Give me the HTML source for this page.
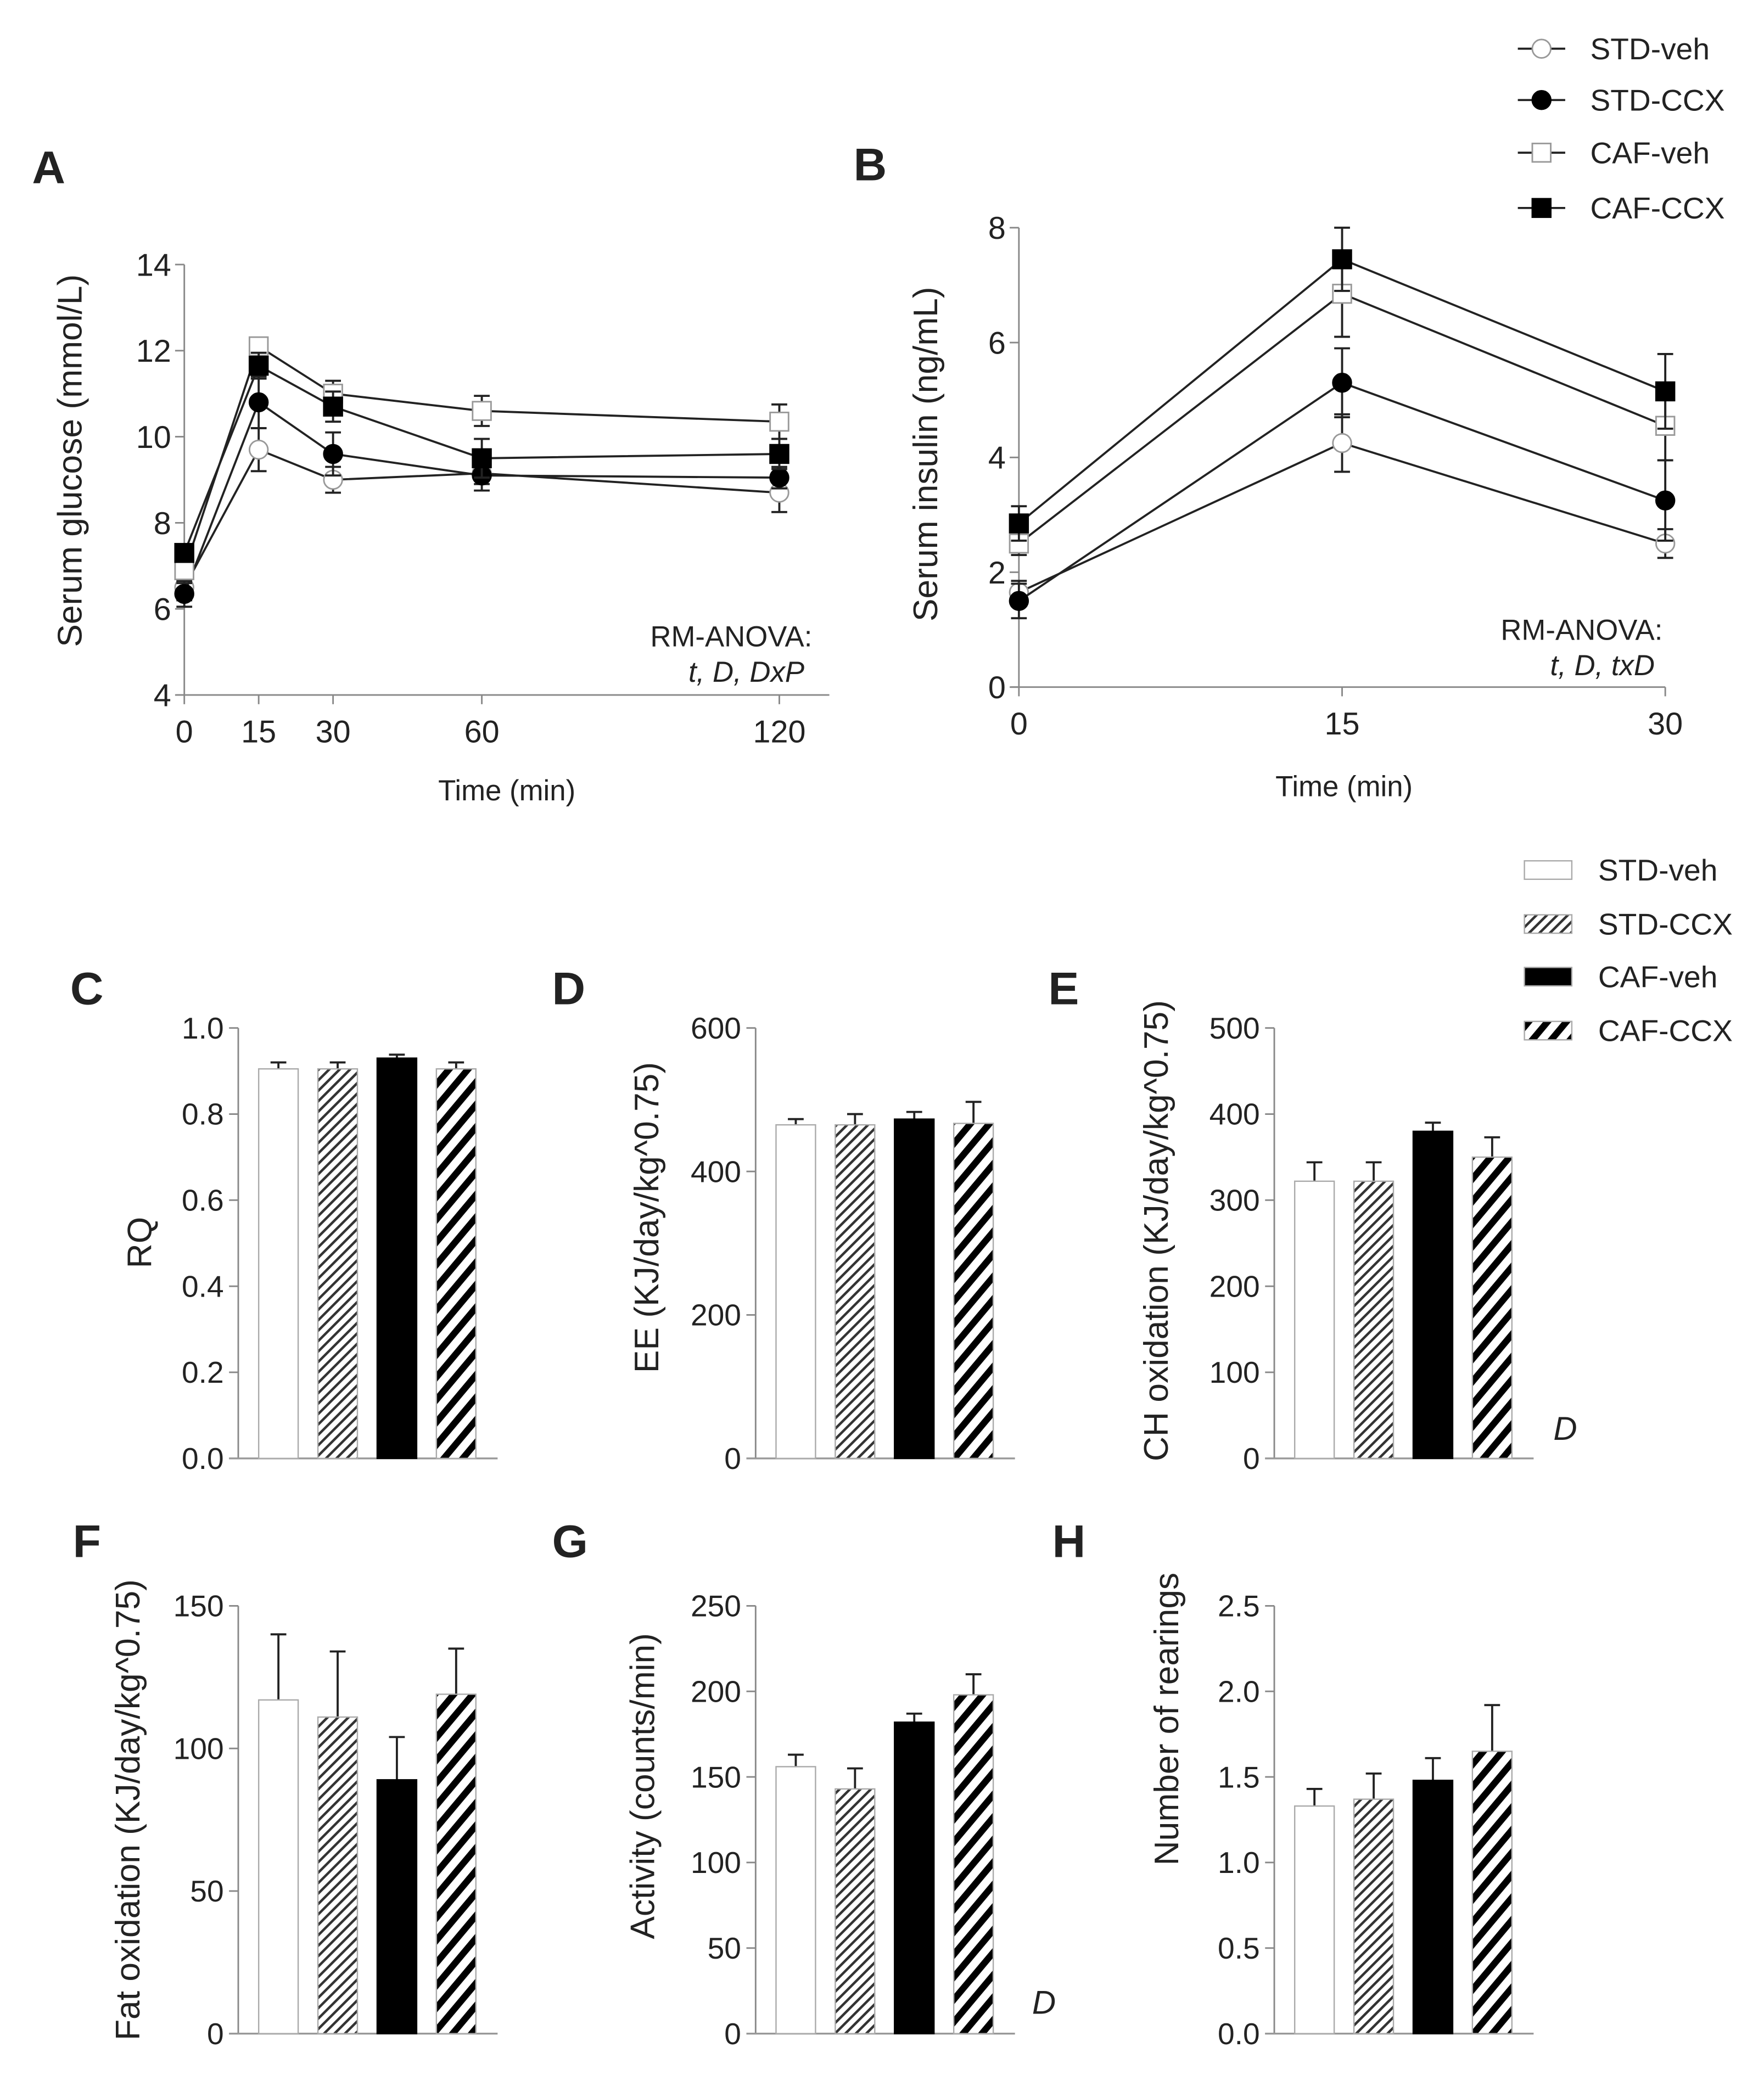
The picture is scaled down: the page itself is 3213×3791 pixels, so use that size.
<!DOCTYPE html>
<html><head><meta charset="utf-8"><title>Glucose, insulin and metabolic panels</title>
<style>
html,body{margin:0;padding:0;background:#fff;}
svg{display:block;}
text{font-family:"Liberation Sans",Arial,sans-serif;fill:#222;}
</style></head>
<body>
<svg id="fig" xmlns="http://www.w3.org/2000/svg" width="3213" height="3791" viewBox="0 0 1340 1581" preserveAspectRatio="none">
<defs>
<pattern id="thinHatch" patternUnits="userSpaceOnUse" width="5.6" height="5.6" patternTransform="rotate(45)">
<rect width="5.6" height="5.6" fill="#fff"/><rect x="0" y="0" width="1.9" height="5.6" fill="#333"/>
</pattern>
<pattern id="thickHatch" patternUnits="userSpaceOnUse" width="11" height="11" patternTransform="rotate(40)">
<rect width="11" height="11" fill="#fff"/><rect x="0" y="0" width="5" height="11" fill="#000"/>
</pattern>
</defs>
<g id="root"></g>
</svg>
<script>
// ---------- Panel A data (serum glucose) ----------
const timesA = [0, 15, 30, 60, 120];
const ticksAY = [4, 6, 8, 10, 12, 14];
const stdVehA = [6.5, 9.7, 9.0, 9.15, 8.7];
const stdVehAErr = [0.3, 0.5, 0.3, 0.25, 0.45];
const stdCcxA = [6.35, 10.8, 9.6, 9.1, 9.05];
const stdCcxAErr = [0.3, 0.6, 0.5, 0.35, 0.25];
const cafVehA = [6.9, 12.1, 11.0, 10.6, 10.35];
const cafVehAErr = [0.3, 0.2, 0.3, 0.35, 0.4];
const cafCcxA = [7.3, 11.65, 10.7, 9.5, 9.6];
const cafCcxAErr = [0.2, 0.3, 0.35, 0.45, 0.35];
// ---------- Panel B data (serum insulin) ----------
const timesB = [0, 15, 30];
const ticksBY = [0, 2, 4, 6, 8];
const stdVehB = [1.65, 4.25, 2.5];
const stdVehBErr = [0.2, 0.5, 0.25];
const stdCcxB = [1.5, 5.3, 3.25];
const stdCcxBErr = [0.3, 0.6, 0.7];
const cafVehB = [2.5, 6.85, 4.55];
const cafVehBErr = [0.2, 0.75, 0.6];
const cafCcxB = [2.85, 7.45, 5.15];
const cafCcxBErr = [0.3, 0.55, 0.65];
// ---------- Bar panels ----------
const groups = ["STD-veh", "STD-CCX", "CAF-veh", "CAF-CCX"];
const rqVals = [0.905, 0.905, 0.93, 0.905];
const rqErr = [0.015, 0.015, 0.008, 0.015];
const rqTicks = ["0.0", "0.2", "0.4", "0.6", "0.8", "1.0"];
const eeVals = [465, 465, 473, 467];
const eeErr = [8, 15, 10, 30];
const eeTicks = ["0", "200", "400", "600"];
const chVals = [322, 322, 380, 350];
const chErr = [22, 22, 10, 23];
const chTicks = ["0", "100", "200", "300", "400", "500"];
const fatVals = [117, 111, 89, 119];
const fatErr = [23, 23, 15, 16];
const fatTicks = ["0", "50", "100", "150"];
const actVals = [156, 143, 182, 198];
const actErr = [7, 12, 5, 12];
const actTicks = ["0", "50", "100", "150", "200", "250"];
const rearVals = [1.33, 1.37, 1.48, 1.65];
const rearErr = [0.1, 0.15, 0.13, 0.27];
const rearTicks = ["0.0", "0.5", "1.0", "1.5", "2.0", "2.5"];

const NS = "http://www.w3.org/2000/svg";
const root = document.getElementById("root");
function mk(tag, attrs, parent) {
  const e = document.createElementNS(NS, tag);
  for (const k in attrs) e.setAttribute(k, attrs[k]);
  (parent || root).appendChild(e);
  return e;
}
function txt(str, x, y, size, parent, extra) {
  const t = mk("text", Object.assign({x: x, y: y, "font-size": size}, extra || {}), parent);
  t.textContent = str;
  return t;
}
function panelLetter(ch, x, y) {
  const t = txt(ch, x, y, 35, root, {"font-weight": "bold", "text-anchor": "middle", "fill": "#000"});
  
  
}

// ---------- Line panel ----------
function linePanel(cfg) {
  const g = mk("g", {});
  
  
  const sx = v => cfg.x0 + (v - cfg.xmin) / (cfg.xmax - cfg.xmin) * (cfg.x1 - cfg.x0);
  const sy = v => cfg.y0 + (v - cfg.ymin) / (cfg.ymax - cfg.ymin) * (cfg.y1 - cfg.y0);
  const ax = mk("g", {}, g);
  
  
  mk("line", {x1: cfg.x0, y1: sy(cfg.ymin), x2: cfg.x0, y2: sy(cfg.ymax), stroke: "#888", "stroke-width": 1.2}, ax);
  cfg.yticks.forEach(v => {
    mk("line", {x1: cfg.x0 - 7, y1: sy(v), x2: cfg.x0, y2: sy(v), stroke: "#888", "stroke-width": 1.2}, ax);
    const t = txt(String(v), cfg.x0 - 10, sy(v) + 8.5, 24, ax, {"text-anchor": "end"});
    
    
  });
  const xa = mk("g", {}, g);
  
  
  mk("line", {x1: cfg.x0 - 6, y1: sy(cfg.ymin), x2: cfg.xend, y2: sy(cfg.ymin), stroke: "#888", "stroke-width": 1.2}, xa);
  cfg.times.forEach(v => {
    mk("line", {x1: sx(v), y1: sy(cfg.ymin), x2: sx(v), y2: sy(cfg.ymin) + 7, stroke: "#888", "stroke-width": 1.2}, xa);
    const t = txt(String(v), sx(v), sy(cfg.ymin) + 36, 24, xa, {"text-anchor": "middle"});
    
    
  });
  const xt = txt("Time (min)", cfg.xTitleX, cfg.xTitleY, 22, g, {"text-anchor": "middle"});
  
  
  const yt = txt(cfg.ytitle, 0, 0, 26, g, {"text-anchor": "middle", transform: "translate(" + cfg.yTitleX + "," + cfg.yTitleY + ") rotate(-90)"});
  
  
  const a1 = txt("RM-ANOVA:", cfg.annX, cfg.annY, 22, g, {"text-anchor": "end"});
  
  
  const a2 = txt(cfg.ann, cfg.annX - 6, cfg.annY + 27, 22, g, {"text-anchor": "end", "font-style": "italic"});
  
  
  cfg.series.forEach(s => {
    const sg = mk("g", {}, g);
    
    
    const pts = cfg.times.map((t, i) => sx(t) + "," + sy(s.vals[i])).join(" ");
    const pl = mk("polyline", {points: pts, fill: "none", stroke: "#222", "stroke-width": 1.6}, sg);
    
    
    cfg.times.forEach((t, i) => {
      const x = sx(t), y = s.vals[i], e = s.err[i];
      const eb = mk("path", {d: "M" + x + "," + sy(y - e) + "V" + sy(y + e) + "M" + (x - 6) + "," + sy(y + e) + "H" + (x + 6) + "M" + (x - 6) + "," + sy(y - e) + "H" + (x + 6), stroke: "#222", "stroke-width": 1.6, fill: "none"}, sg);
      
      
    });
    cfg.times.forEach((t, i) => {
      const x = sx(t), y = sy(s.vals[i]);
      let m;
      if (s.shape === "circle") m = mk("circle", {cx: x, cy: y, r: 7, fill: s.fill ? "#000" : "#fff", stroke: s.fill ? "#000" : "#999", "stroke-width": 1.2}, sg);
      else m = mk("rect", {x: x - 7, y: y - 7, width: 14, height: 14, fill: s.fill ? "#000" : "#fff", stroke: s.fill ? "#000" : "#999", "stroke-width": 1.2}, sg);
      
      
    });
  });
}

linePanel({name: "panel-a-glucose", x0: 140, x1: 592, xend: 630, xmin: 0, xmax: 120, y0: 528, y1: 201, ymin: 4, ymax: 14,
  times: timesA, yticks: ticksAY, ytitle: "Serum glucose (mmol/L)", yTitleX: 62, yTitleY: 350,
  xTitleX: 385, xTitleY: 608, annX: 617, annY: 491, ann: "t, D, DxP",
  series: [
    {key: "std-veh", vals: stdVehA, err: stdVehAErr, shape: "circle", fill: false},
    {key: "std-ccx", vals: stdCcxA, err: stdCcxAErr, shape: "circle", fill: true},
    {key: "caf-veh", vals: cafVehA, err: cafVehAErr, shape: "square", fill: false},
    {key: "caf-ccx", vals: cafCcxA, err: cafCcxAErr, shape: "square", fill: true}
  ]});
linePanel({name: "panel-b-insulin", x0: 774, x1: 1265, xend: 1265, xmin: 0, xmax: 30, y0: 522, y1: 173, ymin: 0, ymax: 8,
  times: timesB, yticks: ticksBY, ytitle: "Serum insulin (ng/mL)", yTitleX: 712, yTitleY: 345,
  xTitleX: 1021, xTitleY: 605, annX: 1263, annY: 486, ann: "t, D, txD",
  series: [
    {key: "std-veh", vals: stdVehB, err: stdVehBErr, shape: "circle", fill: false},
    {key: "std-ccx", vals: stdCcxB, err: stdCcxBErr, shape: "circle", fill: true},
    {key: "caf-veh", vals: cafVehB, err: cafVehBErr, shape: "square", fill: false},
    {key: "caf-ccx", vals: cafCcxB, err: cafCcxBErr, shape: "square", fill: true}
  ]});
panelLetter("A", 37, 139);
panelLetter("B", 661, 137);

// ---------- line legend ----------
const lineLegendY = [37, 76, 116, 158];
const lg = mk("g", {});


groups.forEach((name, i) => {
  const y = lineLegendY[i];
  const e = mk("g", {}, lg);
  
  
  mk("line", {x1: 1153, y1: y, x2: 1189, y2: y, stroke: "#222", "stroke-width": 1.6}, e);
  const fill = (i % 2 === 1) ? "#000" : "#fff", st = (i % 2 === 1) ? "#000" : "#999";
  if (i < 2) mk("circle", {cx: 1171, cy: y, r: 7, fill: fill, stroke: st, "stroke-width": 1.2}, e);
  else mk("rect", {x: 1164, y: y - 7, width: 14, height: 14, fill: fill, stroke: st, "stroke-width": 1.2}, e);
  txt(name, 1208, y + 8, 23, e);
});

// ---------- bar legend ----------
const barFills = ["#fff", "url(#thinHatch)", "#000", "url(#thickHatch)"];
const barLegendY = [661, 702, 742, 783];
const bl = mk("g", {});


groups.forEach((name, i) => {
  const y = barLegendY[i];
  const e = mk("g", {}, bl);
  
  
  mk("rect", {x: 1158, y: y - 7, width: 36, height: 14, fill: barFills[i], stroke: "#aaa", "stroke-width": 1}, e);
  txt(name, 1214, y + 8, 23, e);
});

// ---------- bar panel ----------
function barPanel(cfg) {
  const g = mk("g", {});
  
  
  const ymax = parseFloat(cfg.ticks[cfg.ticks.length - 1]);
  const sy = v => cfg.yb + (cfg.yt - cfg.yb) * v / ymax;
  const bx = i => cfg.x0 + 15.5 + i * 45;
  const ax = mk("g", {}, g);
  
  
  mk("line", {x1: cfg.x0, y1: sy(0), x2: cfg.x0, y2: sy(ymax), stroke: "#888", "stroke-width": 1.2}, ax);
  cfg.ticks.forEach(lbl => {
    const v = parseFloat(lbl);
    mk("line", {x1: cfg.x0 - 7, y1: sy(v), x2: cfg.x0, y2: sy(v), stroke: "#888", "stroke-width": 1.2}, ax);
    const t = txt(lbl, cfg.x0 - 11, sy(v) + 8, 23, ax, {"text-anchor": "end"});
    
    
  });
  const xl = mk("line", {x1: cfg.x0 - 7, y1: sy(0), x2: cfg.x0 + 197, y2: sy(0), stroke: "#999", "stroke-width": 1.4}, g);
  
  
  const yt = txt(cfg.ytitle, 0, 0, 26, g, {"text-anchor": "middle", transform: "translate(" + cfg.titleX + "," + cfg.titleY + ") rotate(-90)"});
  
  
  cfg.vals.forEach((v, i) => {
    const x = bx(i), e = cfg.err[i];
    const eb = mk("path", {d: "M" + (x + 15) + "," + sy(v) + "V" + sy(v + e) + "M" + (x + 9) + "," + sy(v + e) + "H" + (x + 21), stroke: "#222", "stroke-width": 1.6, fill: "none"}, g);
    
    
    const r = mk("rect", {x: x, y: sy(v), width: 30, height: sy(0) - sy(v), fill: barFills[i], stroke: i === 2 ? "#000" : "#aaa", "stroke-width": 1}, g);
    
    
  });
  if (cfg.sig) {
    const s = txt("D", cfg.sigX, cfg.sigY, 25, g, {"font-style": "italic"});
    
    
  }
}
const row1 = {yt: 781, yb: 1108};
const row2 = {yt: 1220, yb: 1545};
barPanel(Object.assign({name: "panel-c-rq", x0: 181, vals: rqVals, err: rqErr, ticks: rqTicks, ytitle: "RQ", titleX: 115, titleY: 944}, row1));
barPanel(Object.assign({name: "panel-d-ee", x0: 574, vals: eeVals, err: eeErr, ticks: eeTicks, ytitle: "EE (KJ/day/kg^0.75)", titleX: 500, titleY: 925}, row1));
barPanel(Object.assign({name: "panel-e-ch-oxidation", x0: 968, vals: chVals, err: chErr, ticks: chTicks, ytitle: "CH oxidation (KJ/day/kg^0.75)", titleX: 887, titleY: 935, sig: true, sigX: 1180, sigY: 1094}, row1));
barPanel(Object.assign({name: "panel-f-fat-oxidation", x0: 181, vals: fatVals, err: fatErr, ticks: fatTicks, ytitle: "Fat oxidation (KJ/day/kg^0.75)", titleX: 106, titleY: 1375}, row2));
barPanel(Object.assign({name: "panel-g-activity", x0: 574, vals: actVals, err: actErr, ticks: actTicks, ytitle: "Activity (counts/min)", titleX: 497, titleY: 1357}, row2));
barPanel(Object.assign({name: "panel-h-rearings", x0: 968, vals: rearVals, err: rearErr, ticks: rearTicks, ytitle: "Number of rearings", titleX: 895, titleY: 1306}, row2));
panelLetter("C", 66, 763);
panelLetter("D", 432, 763);
panelLetter("E", 808, 763);
panelLetter("F", 66, 1183);
panelLetter("G", 433, 1183);
panelLetter("H", 812, 1183);
const gs = txt("D", 784, 1530, 25, root, {"font-style": "italic"});


</script>
</body></html>
